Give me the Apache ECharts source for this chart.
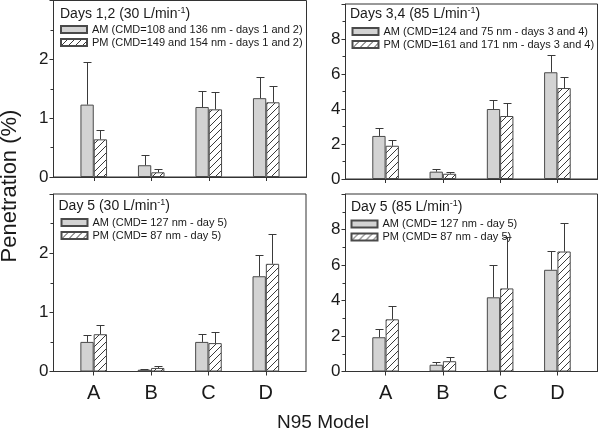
<!DOCTYPE html>
<html><head><meta charset="utf-8">
<script src="https://cdn.jsdelivr.net/npm/echarts@6/dist/echarts.min.js"></script>
<style>html,body{margin:0;padding:0;background:#fff}#c{width:600px;height:436px}</style>
</head><body><div id="c"></div>
<script>
// ---- data ----
const categories = ['A', 'B', 'C', 'D'];
const panelTitles = [
  ['Days 1,2 (30 L/min', ')'],
  ['Days 3,4 (85 L/min', ')'],
  ['Day 5 (30 L/min', ')'],
  ['Day 5 (85 L/min', ')']
];
const amNames = [
  'AM (CMD=108 and 136 nm - days 1 and 2)',
  'AM (CMD=124 and 75 nm - days 3 and 4)',
  'AM (CMD= 127 nm - day 5)',
  'AM (CMD= 127 nm - day 5)'
];
const pmNames = [
  'PM (CMD=149 and 154 nm - days 1 and 2)',
  'PM (CMD=161 and 171 nm - days 3 and 4)',
  'PM (CMD= 87 nm - day 5)',
  'PM (CMD= 87 nm - day 5)'
];
// mean penetration (%)
const amDays12 = [1.23, 0.20, 1.19, 1.34];
const pmDays12 = [0.64, 0.08, 1.15, 1.27];
const amDays34 = [2.46, 0.42, 4.00, 6.10];
const pmDays34 = [1.90, 0.30, 3.60, 5.20];
const amDay5Low = [0.50, 0.03, 0.50, 1.61];
const pmDay5Low = [0.63, 0.06, 0.48, 1.82];
const amDay5High = [1.93, 0.38, 4.18, 5.73];
const pmDay5High = [2.94, 0.58, 4.68, 6.76];
// upper end of error bars (%)
const amErrDays12 = [1.95, 0.37, 1.46, 1.70];
const pmErrDays12 = [0.80, 0.14, 1.44, 1.55];
const amErrDays34 = [2.90, 0.55, 4.53, 7.07];
const pmErrDays34 = [2.23, 0.38, 4.34, 5.83];
const amErrDay5Low = [0.61, 0.05, 0.63, 1.97];
const pmErrDay5Low = [0.78, 0.10, 0.67, 2.32];
const amErrDay5High = [2.42, 0.51, 5.98, 6.80];
const pmErrDay5High = [3.67, 0.84, 7.55, 8.39];
const yMax = [3, 10, 3, 10];
const yInterval = [1, 2, 1, 2];
const yTickValues = [[0, 1, 2], [0, 2, 4, 6, 8], [0, 1, 2], [0, 2, 4, 6, 8]];

const amVals = [amDays12, amDays34, amDay5Low, amDay5High];
const pmVals = [pmDays12, pmDays34, pmDay5Low, pmDay5High];
const amErr = [amErrDays12, amErrDays34, amErrDay5Low, amErrDay5High];
const pmErr = [pmErrDays12, pmErrDays34, pmErrDay5Low, pmErrDay5High];

// ---- layout / style ----
const FONT = "'Liberation Sans', Arial, sans-serif";
const grids = [
  {left: 53.5, top: 0.5, width: 253, height: 176.5},
  {left: 345.5, top: 4, width: 252, height: 175},
  {left: 53.5, top: 194, width: 252.5, height: 177.5},
  {left: 345.5, top: 194, width: 252, height: 177.5}
];
const titlePos = [[60, 6], [350, 6], [58.5, 198], [351, 199.5]];
const legendPos = [[60, 23.5], [351.5, 25.5], [60.5, 216.5], [350.5, 218]];
const BAR_W = 13.3;

const hatch = document.createElement('canvas');
hatch.width = 7; hatch.height = 7;
(function () {
  const g = hatch.getContext('2d');
  g.fillStyle = '#fff'; g.fillRect(0, 0, 7, 7);
  g.strokeStyle = '#3a3a3a'; g.lineWidth = 1;
  g.beginPath();
  g.moveTo(-1, 8); g.lineTo(8, -1);
  g.moveTo(-1, 1); g.lineTo(1, -1);
  g.moveTo(6, 8); g.lineTo(8, 6);
  g.stroke();
})();

const option = {
  animation: false,
  backgroundColor: '#fff',
  textStyle: {fontFamily: FONT},
  grid: grids.map(g => Object.assign({show: true, borderColor: '#333', borderWidth: 1, backgroundColor: 'transparent'}, g)),
  title: panelTitles.map((t, i) => ({
    text: '{a|' + t[0] + '}{s|-1}{a|' + t[1] + '}',
    left: titlePos[i][0], top: titlePos[i][1], padding: 0,
    textStyle: {
      fontWeight: 'normal',
      rich: {
        a: {fontSize: 14, fontWeight: 'normal', color: '#1a1a1a', fontFamily: FONT, lineHeight: 16},
        s: {fontSize: 9, fontWeight: 'normal', color: '#1a1a1a', fontFamily: FONT, lineHeight: 16, verticalAlign: 'top'}
      }
    }
  })).concat([{
    text: 'N95 Model', left: 323, top: 413, textAlign: 'center', padding: 0,
    textStyle: {fontSize: 19, fontWeight: 'normal', color: '#1a1a1a', fontFamily: FONT}
  }]),
  legend: legendPos.map((p, i) => ({
    left: p[0], top: p[1], padding: 0, orient: 'vertical', itemGap: 1,
    itemWidth: 26, itemHeight: 7, icon: 'rect', selectedMode: false,
    data: [amNames[i], pmNames[i]],
    textStyle: {fontSize: 11, color: '#1a1a1a', fontFamily: FONT, lineHeight: 12}
  })),
  graphic: [{
    type: 'text', rotation: Math.PI / 2, position: [-1, 186],
    style: {text: 'Penetration (%)', font: '22px ' + FONT, fill: '#1a1a1a', textAlign: 'center', textVerticalAlign: 'top'}
  }],
  xAxis: grids.map((g, i) => ({
    type: 'value', gridIndex: i, min: 0.3, max: 4.7,
    axisLine: {show: true, lineStyle: {color: '#333', width: 1}},
    axisTick: {show: true, inside: false, length: 4, customValues: categories.map((c, j) => j + 1), lineStyle: {color: '#333'}},
    axisLabel: {show: i >= 2, customValues: categories.map((c, j) => j + 1), formatter: v => categories[Math.round(v) - 1] || '', fontSize: 20, color: '#1a1a1a', margin: 12, fontFamily: FONT},
    splitLine: {show: false}
  })),
  yAxis: grids.map((g, i) => ({
    type: 'value', gridIndex: i, min: 0, max: yMax[i], interval: yInterval[i],
    axisLine: {show: true, lineStyle: {color: '#333', width: 1}},
    axisTick: {show: true, inside: false, length: 4, lineStyle: {color: '#333'}},
    minorTick: {show: true, splitNumber: 2, length: 3, lineStyle: {color: '#333'}},
    axisLabel: {fontSize: 17, color: '#1a1a1a', margin: 5, fontFamily: FONT, showMaxLabel: false,
      formatter: v => yTickValues[i].indexOf(v) >= 0 ? String(v) : ''},
    splitLine: {show: false}, minorSplitLine: {show: false}
  })),
  series: []
};

function errSeries(i, vals, tops, side) {
  return {
    type: 'custom', xAxisIndex: i, yAxisIndex: i, z: 5, silent: true,
    data: categories.map((c, j) => [j + 1, vals[j], tops[j]]),
    renderItem: function (params, api) {
      const x = api.value(0);
      const b = api.coord([x, api.value(1)]);
      const t = api.coord([x, api.value(2)]);
      const cx = Math.round(b[0] + side * BAR_W / 2) + 0.5;
      const ty = Math.round(t[1]) + 0.5;
      const st = {stroke: '#3a3a3a', lineWidth: 1};
      return {type: 'group', children: [
        {type: 'line', shape: {x1: cx, y1: b[1], x2: cx, y2: ty}, style: st},
        {type: 'line', shape: {x1: cx - 4, y1: ty, x2: cx + 4, y2: ty}, style: st}
      ]};
    }
  };
}

for (let i = 0; i < 4; i++) {
  option.series.push({
    name: amNames[i], type: 'bar', xAxisIndex: i, yAxisIndex: i, barWidth: BAR_W, barGap: '0%',
    data: categories.map((c, j) => [j + 1, amVals[i][j]]),
    itemStyle: {color: '#d3d3d3', borderColor: '#4a4a4a', borderWidth: 1}
  });
  option.series.push({
    name: pmNames[i], type: 'bar', xAxisIndex: i, yAxisIndex: i, barWidth: BAR_W, barGap: '0%',
    data: categories.map((c, j) => [j + 1, pmVals[i][j]]),
    itemStyle: {color: {image: hatch, repeat: 'repeat'}, borderColor: '#4a4a4a', borderWidth: 1}
  });
  option.series.push(errSeries(i, amVals[i], amErr[i], -1));
  option.series.push(errSeries(i, pmVals[i], pmErr[i], 1));
}

const chart = echarts.init(document.getElementById('c'), null, {renderer: 'canvas'});
chart.setOption(option);
</script>
</body></html>
